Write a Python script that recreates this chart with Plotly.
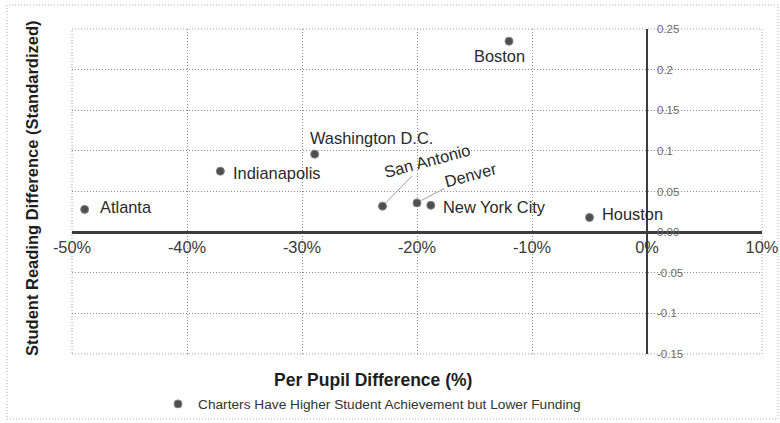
import plotly.graph_objects as go

# ---------------- data ----------------
cities = ["Atlanta", "Indianapolis", "Washington D.C.", "San Antonio",
          "Denver", "New York City", "Boston", "Houston"]
funding_diff = [-48.9, -37.1, -28.9, -23.0, -20.0, -18.8, -12.0, -5.0]
reading_diff = [0.028, 0.075, 0.096, 0.032, 0.036, 0.033, 0.235, 0.018]

x_tickvals = [-50, -40, -30, -20, -10, 0, 10]
x_ticktext = ["-50%", "-40%", "-30%", "-20%", "-10%", "0%", "10%"]
y_tickvals = [-0.15, -0.1, -0.05, 0, 0.05, 0.1, 0.15, 0.2, 0.25]
y_ticktext = ["-0.15", "-0.1", "-0.05", "0.00", "0.05", "0.1", "0.15", "0.2", "0.25"]

series_name = "Charters Have Higher Student Achievement but Lower Funding"
x_title = "Per Pupil Difference (%)"
y_title = "Student Reading Difference (Standardized)"

X_RANGE = [-50, 10]
Y_RANGE = [-0.15, 0.25]

# ---------------- label placement (styling) ----------------
FONT = "Liberation Sans, Arial, sans-serif"
label_place = {
    "Atlanta":         dict(xanchor="left", xshift=13, yshift=2),
    "Indianapolis":    dict(xanchor="left", xshift=11, yshift=-2),
    "Washington D.C.": dict(xanchor="left", xshift=-7, yshift=16),
    "New York City":   dict(xanchor="left", xshift=10, yshift=-2),
    "Houston":         dict(xanchor="left", xshift=10, yshift=4),
    "Boston":          dict(xanchor="center", xshift=-10, yshift=-15),
}
leader_place = {
    "San Antonio": dict(ax=44, ay=-45),
    "Denver":      dict(ax=53, ay=-28),
}

PL, PR, PT, PB = 72, 18, 29, 69      # plot-area margins
PW, PH = 780 - PL - PR, 423 - PT - PB


def px(xpix):
    return (xpix - PL) / PW


def py(ypix):
    return (423 - PB - ypix) / PH


fig = go.Figure()
fig.add_trace(go.Scatter(
    x=funding_diff, y=reading_diff, mode="markers", name=series_name,
    marker=dict(size=8, color="#4f4f4f", line=dict(width=1, color="#808080")),
    showlegend=True, cliponaxis=False, hoverinfo="skip",
))

annotations = []
for c, xv, yv in zip(cities, funding_diff, reading_diff):
    if c in label_place:
        p = label_place[c]
        annotations.append(dict(
            x=xv, y=yv, xref="x", yref="y", text=c, showarrow=False,
            xanchor=p["xanchor"], yanchor="middle",
            xshift=p["xshift"], yshift=p["yshift"],
            font=dict(family=FONT, size=16.4, color="#2a2a2a"),
        ))
    else:
        p = leader_place[c]
        annotations.append(dict(
            x=xv, y=yv, xref="x", yref="y", text=c, showarrow=True,
            ax=p["ax"], ay=p["ay"], textangle=-15,
            arrowhead=0, arrowwidth=1, arrowcolor="#a0a0a0", standoff=5,
            font=dict(family=FONT, size=16.4, color="#2a2a2a"),
        ))

# axis titles
annotations.append(dict(
    x=px(373), y=py(380), xref="paper", yref="paper",
    text="<b>%s</b>" % x_title, showarrow=False, xanchor="center", yanchor="middle",
    font=dict(family=FONT, size=17.5, color="#1e1e1e"),
))
annotations.append(dict(
    x=px(32), y=py(188), xref="paper", yref="paper",
    text="<b>%s</b>" % y_title, showarrow=False, textangle=-90,
    xanchor="center", yanchor="middle",
    font=dict(family=FONT, size=16.5, color="#1e1e1e"),
))

shapes = [
    # plot area border
    dict(type="rect", xref="paper", yref="paper", x0=0, x1=1, y0=0, y1=1,
         line=dict(color="#a0a0a0", width=1, dash="1px,2px"), layer="below"),
    # outer chart border
    dict(type="rect", xref="paper", yref="paper",
         x0=px(7), x1=px(778), y0=py(419), y1=py(5),
         line=dict(color="#b0b0b0", width=1, dash="1px,2px"), layer="below"),
]

x_axis_pos = (0 - Y_RANGE[0]) / (Y_RANGE[1] - Y_RANGE[0])
y_axis_pos = (0 - X_RANGE[0]) / (X_RANGE[1] - X_RANGE[0])

fig.update_layout(
    width=780, height=423, autosize=False,
    margin=dict(l=PL, r=PR, t=PT, b=PB, pad=0, autoexpand=False),
    paper_bgcolor="white", plot_bgcolor="white",
    font=dict(family=FONT, color="#333333"),
    hovermode=False,
    xaxis=dict(
        range=X_RANGE, tickvals=x_tickvals, ticktext=x_ticktext,
        anchor="free", position=x_axis_pos, side="bottom",
        showgrid=True, gridcolor="#8c8c8c", gridwidth=1, griddash="1px,2px",
        zeroline=True, zerolinecolor="#3c3c3c", zerolinewidth=2,
        showline=False, ticks="", ticklabelstandoff=3, automargin=False,
        tickfont=dict(family=FONT, size=16.4, color="#3a3a3a"),
    ),
    yaxis=dict(
        range=Y_RANGE, tickvals=y_tickvals, ticktext=y_ticktext,
        anchor="free", position=y_axis_pos, side="right",
        showgrid=True, gridcolor="#8c8c8c", gridwidth=1, griddash="1px,2px",
        zeroline=True, zerolinecolor="#3c3c3c", zerolinewidth=2.5,
        showline=False, ticks="", ticklabelstandoff=9, automargin=False,
        tickfont=dict(family=FONT, size=11.5, color="#6a6a6a"),
    ),
    legend=dict(
        orientation="h", x=px(158), xanchor="left",
        y=py(404), yanchor="middle",
        font=dict(family=FONT, size=13.7, color="#333333"),
        bgcolor="rgba(0,0,0,0)", borderwidth=0,
    ),
    showlegend=True,
    annotations=annotations,
    shapes=shapes,
)

fig.write_html(
    "out.html",
    config={"displayModeBar": False},
    post_script="document.body.style.margin='0';document.body.style.overflow='hidden';",
)
